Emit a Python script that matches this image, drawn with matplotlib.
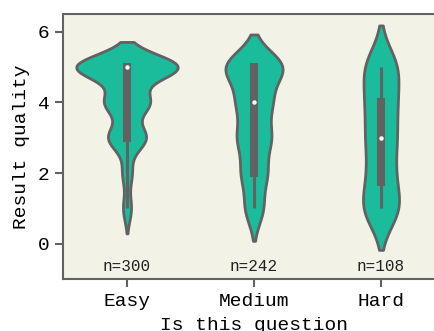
import numpy as np
import pandas as pd
import matplotlib
matplotlib.use('Agg')
import matplotlib.pyplot as plt
import seaborn as sns

# ─── data: counts of each rating (1..5) per difficulty ────────────────────────
CATEGORIES = ['Easy', 'Medium', 'Hard']
RATINGS    = [1, 2, 3, 4, 5]
COUNTS_EASY   = [12, 14, 56, 66, 152]
COUNTS_MEDIUM = [26, 36, 47, 48, 85]
COUNTS_HARD   = [27, 17, 20, 20, 24]
N_LABELS = ['n=300', 'n=242', 'n=108']
# ──────────────────────────────────────────────────────────────────────────────

BG     = '#f3f2e7'
FILL   = '#1abc9c'
LINE   = '#626262'

plt.rcParams['font.family'] = ['Liberation Mono', 'DejaVu Sans Mono']

rows = []
for cat, counts in zip(CATEGORIES, [COUNTS_EASY, COUNTS_MEDIUM, COUNTS_HARD]):
    vals = np.repeat(RATINGS, counts)
    rows.append(pd.DataFrame({'difficulty': cat, 'quality': vals}))
df = pd.concat(rows, ignore_index=True)

fig = plt.figure(figsize=(4.35, 3.31), dpi=100)
ax = fig.add_axes([63.5 / 435, 52 / 331, 381 / 435, 265 / 331])
ax.set_facecolor(BG)

sns.violinplot(data=df, x='difficulty', y='quality', order=CATEGORIES,
               color=FILL, linecolor=LINE, linewidth=2, saturation=1,
               inner=None, ax=ax)

# inner box drawn by hand: quartile box, whiskers, white median dot
for i, cat in enumerate(CATEGORIES):
    v = df.loc[df.difficulty == cat, 'quality'].values
    st = matplotlib.cbook.boxplot_stats(v)[0]
    ax.plot([i, i], [st['whislo'], st['whishi']], color=LINE, lw=2.2,
            solid_capstyle='butt', zorder=3)
    ax.plot([i, i], [st['q1'], st['q3']], color=LINE, lw=5.8,
            solid_capstyle='projecting', zorder=3)
    ax.plot(i, st['med'], 'o', color='white', ms=3.2, mew=0, zorder=4)

for i, lab in enumerate(N_LABELS):
    ax.text(i, -0.65, lab, ha='center', va='center', fontsize=11.5,
            color='#222222')

ax.set_xlim(-0.5, 2.5)
ax.set_ylim(-1, 6.5)
ax.set_yticks([0, 2, 4, 6])
ax.set_xlabel('Is this question', fontsize=14, labelpad=5)
ax.set_ylabel('Result quality', fontsize=14, labelpad=6)
ax.tick_params(labelsize=14, color=LINE, width=1.5, length=6, pad=4)
for sp in ax.spines.values():
    sp.set_color(LINE)
    sp.set_linewidth(1.5)

fig.savefig('out.png', dpi=100)
